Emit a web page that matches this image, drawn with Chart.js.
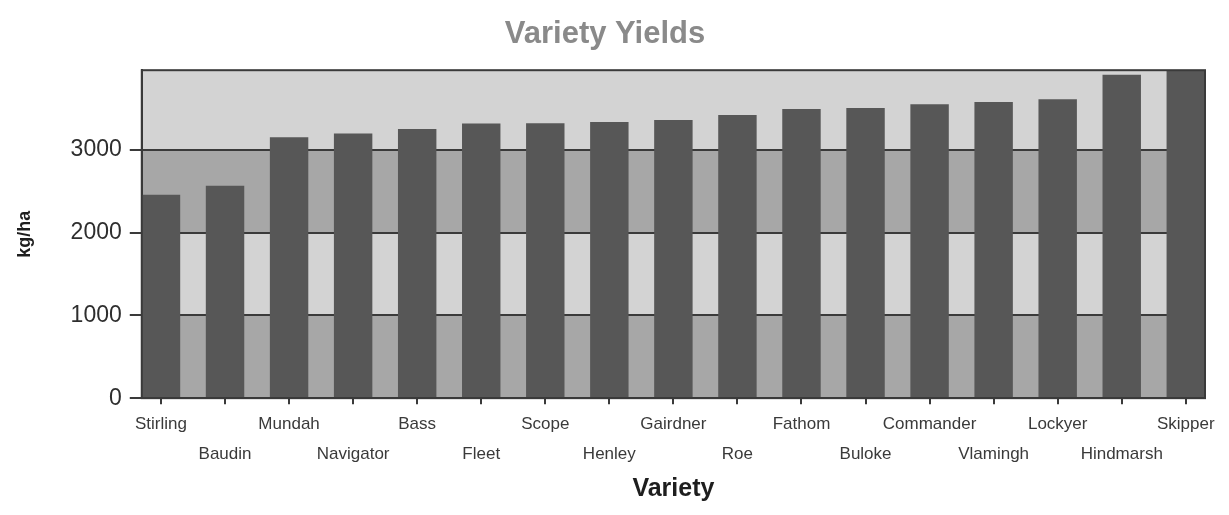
<!DOCTYPE html>
<html>
<head>
<meta charset="utf-8">
<script src="https://cdn.jsdelivr.net/npm/chart.js@4"></script>
<style>
html,body{margin:0;padding:0;background:#fff;}
#wrap{width:1229px;height:515px;position:relative;}
</style>
</head>
<body>
<div id="wrap"><canvas id="c" width="1229" height="515"></canvas></div>
<script>
const categories = ["Stirling","Baudin","Mundah","Navigator","Bass","Fleet","Scope","Henley","Gairdner","Roe","Fathom","Buloke","Commander","Vlamingh","Lockyer","Hindmarsh","Skipper"];
const yields = [2455,2565,3150,3195,3250,3315,3320,3335,3360,3420,3490,3505,3550,3575,3610,3905,3960];
const yTicks = [0,1000,2000,3000];
const yMax = 3960;

const bandColors = ['#a7a7a7','#d3d3d3'];

const bandsPlugin = {
  id: 'bands',
  beforeDraw(chart) {
    const {ctx, chartArea: a, scales: {y}} = chart;
    ctx.save();
    const bounds = yTicks.concat([yMax]);
    for (let i = 0; i < bounds.length - 1; i++) {
      const top = y.getPixelForValue(bounds[i + 1]);
      const bot = y.getPixelForValue(bounds[i]);
      ctx.fillStyle = bandColors[i % 2];
      ctx.fillRect(a.left, top, a.right - a.left, bot - top);
    }
    ctx.restore();
  },
  afterDatasetsDraw(chart) {
    const {ctx, chartArea: a} = chart;
    ctx.save();
    ctx.strokeStyle = '#3a3a3a';
    ctx.lineWidth = 2;
    ctx.strokeRect(a.left, a.top, a.right - a.left, a.bottom - a.top);
    ctx.restore();
  }
};

new Chart(document.getElementById('c'), {
  type: 'bar',
  data: {
    datasets: [{
      data: categories.map((c, i) => ({x: i, y: yields[i]})),
      backgroundColor: '#575757',
      borderWidth: 0,
      categoryPercentage: 0.6,
      barPercentage: 1.0
    }]
  },
  options: {
    responsive: false,
    animation: false,
    layout: {padding: {left: 5, right: 24, top: 0, bottom: 0}},
    plugins: {
      legend: {display: false},
      tooltip: {enabled: false},
      title: {
        display: true,
        text: 'Variety Yields',
        color: '#8a8a8a',
        font: {family: 'Liberation Sans, Arial, sans-serif', size: 31, weight: 'bold', lineHeight: 1.2},
        padding: {top: 16, bottom: 17}
      }
    },
    scales: {
      x: {
        type: 'linear',
        min: -0.3,
        max: categories.length - 1 + 0.3,
        offset: false,
        afterBuildTicks(scale) {
          scale.ticks = categories.map((c, i) => ({value: i}));
        },
        ticks: {
          autoSkip: false,
          maxRotation: 0,
          minRotation: 0,
          padding: 5,
          color: '#3a3a3a',
          font: {family: 'Liberation Sans, Arial, sans-serif', size: 17, lineHeight: 1.76},
          callback(value) {
            const i = Math.round(value);
            return i % 2 === 0 ? [categories[i]] : ['', categories[i]];
          }
        },
        grid: {
          offset: false,
          drawOnChartArea: false,
          drawTicks: true,
          tickLength: 6,
          color: '#3a3a3a',
          lineWidth: 2
        },
        border: {display: true, color: '#3a3a3a', width: 2},
        title: {
          display: true,
          text: 'Variety',
          color: '#1e1e1e',
          font: {family: 'Liberation Sans, Arial, sans-serif', size: 25, weight: 'bold', lineHeight: 1.2},
          padding: {top: 0, bottom: 11}
        }
      },
      y: {
        type: 'linear',
        min: 0,
        max: yMax,
        afterBuildTicks(scale) {
          scale.ticks = yTicks.map(v => ({value: v}));
        },
        ticks: {
          padding: 8,
          color: '#2e2e2e',
          font: {family: 'Liberation Sans, Arial, sans-serif', size: 23, lineHeight: 1.2},
          callback(value) { return String(value); }
        },
        grid: {
          drawOnChartArea: true,
          drawTicks: true,
          tickLength: 12,
          color: '#3a3a3a',
          lineWidth: 2
        },
        border: {display: true, color: '#3a3a3a', width: 2},
        title: {
          display: true,
          text: 'kg/ha',
          color: '#1e1e1e',
          font: {family: 'Liberation Sans, Arial, sans-serif', size: 18, weight: 'bold', lineHeight: 1.2},
          padding: {top: 9, bottom: 27}
        }
      }
    }
  },
  plugins: [bandsPlugin]
});
</script>
</body>
</html>
